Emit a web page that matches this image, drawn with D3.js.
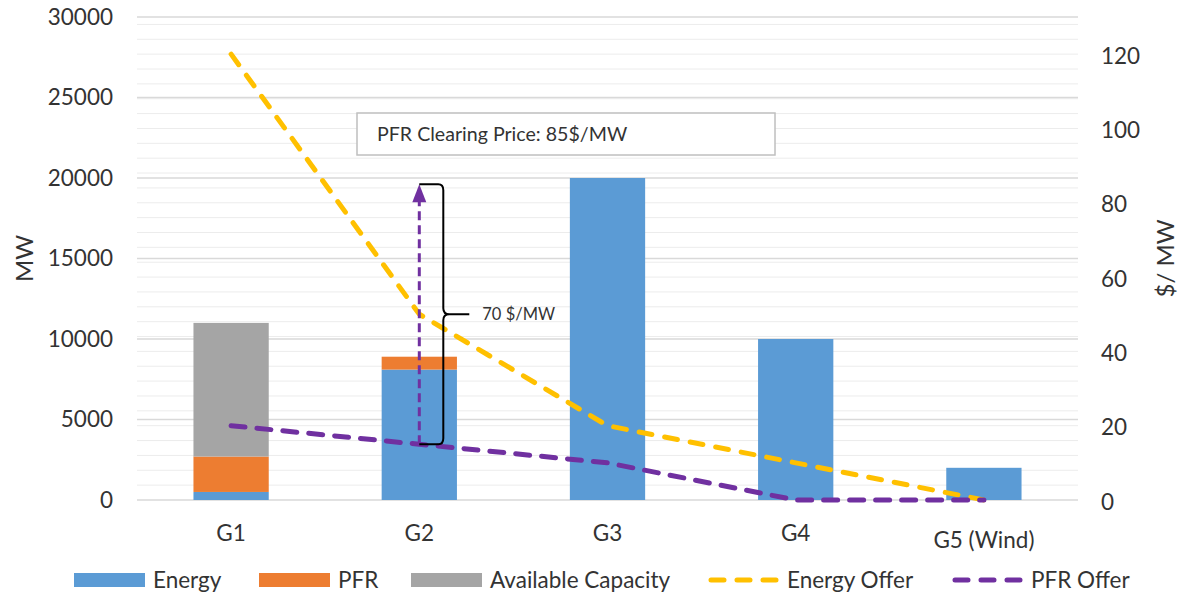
<!DOCTYPE html>
<html>
<head>
<meta charset="utf-8">
<script src="https://cdn.jsdelivr.net/npm/d3@7"></script>
<style>
  html, body { margin: 0; padding: 0; background: #fff; }
  svg text { font-family: Lato, "Open Sans", sans-serif; fill: #333; }
</style>
</head>
<body>
<svg id="chart" width="1180" height="595"></svg>
<script>
// ---------- data ----------
const categories = ["G1", "G2", "G3", "G4", "G5 (Wind)"];
const energy = [500, 8100, 20000, 10000, 2000];
const pfr = [2200, 800, 0, 0, 0];
const availableCapacity = [8300, 0, 0, 0, 0];
const energyOffer = [120, 50, 20, 10, 0];
const pfrOffer = [20, 15, 10, 0, 0];
const leftTicks = [0, 5000, 10000, 15000, 20000, 25000, 30000];
const rightTicks = [0, 20, 40, 60, 80, 100, 120];
const clearingPrice = 85;
const clearingLabel = "PFR Clearing Price: 85$/MW";
const gapLabel = "70 $/MW";
const legendLabels = ["Energy", "PFR", "Available Capacity", "Energy Offer", "PFR Offer"];

// ---------- layout ----------
const colors = {
  energy: "#5B9BD5", pfr: "#ED7D31", avail: "#A5A5A5",
  energyOffer: "#FFC000", pfrOffer: "#7030A0"
};
const plot = { left: 137, right: 1078, top: 17, bottom: 500 };
const FS = 22.5;
const svg = d3.select("#chart");

const x = d3.scaleBand().domain(categories)
  .range([plot.left, plot.right]).paddingInner(0.6).paddingOuter(0.3);
const y = d3.scaleLinear().domain([0, 30000]).range([plot.bottom, plot.top]);
const yR = d3.scaleLinear().domain([0, 130]).range([plot.bottom, plot.top]);

// minor gridlines (secondary axis, every 4)
const minor = d3.range(4, 130, 4);
svg.append("g").selectAll("line").data(minor).join("line")
  .attr("x1", plot.left).attr("x2", plot.right)
  .attr("y1", d => yR(d)).attr("y2", d => yR(d))
  .attr("stroke", "#ececec").attr("stroke-width", 1);

// major gridlines (primary axis)
svg.append("g").selectAll("line").data(leftTicks).join("line")
  .attr("x1", plot.left).attr("x2", plot.right)
  .attr("y1", d => y(d)).attr("y2", d => y(d))
  .attr("stroke", "#d9d9d9").attr("stroke-width", 1.5);

// stacked bars
const rows = categories.map((c, i) => ({
  cat: c, Energy: energy[i], PFR: pfr[i], Avail: availableCapacity[i]
}));
const stack = d3.stack().keys(["Energy", "PFR", "Avail"])(rows);
const stackColors = [colors.energy, colors.pfr, colors.avail];
svg.append("g").selectAll("g").data(stack).join("g")
  .attr("fill", (d, i) => stackColors[i])
  .selectAll("rect").data(d => d).join("rect")
  .attr("x", d => x(d.data.cat))
  .attr("width", x.bandwidth())
  .attr("y", d => y(d[1]))
  .attr("height", d => Math.max(0, y(d[0]) - y(d[1])));

// lines
const cx = c => x(c) + x.bandwidth() / 2;
const line = d3.line().x(d => cx(d.c)).y(d => yR(d.v));
svg.append("path")
  .datum(categories.map((c, i) => ({ c, v: energyOffer[i] })))
  .attr("d", line).attr("fill", "none")
  .attr("stroke", colors.energyOffer).attr("stroke-width", 5)
  .attr("stroke-dasharray", "13,13").attr("stroke-linecap", "round");
svg.append("path")
  .datum(categories.map((c, i) => ({ c, v: pfrOffer[i] })))
  .attr("d", line).attr("fill", "none")
  .attr("stroke", colors.pfrOffer).attr("stroke-width", 5)
  .attr("stroke-dasharray", "14,12").attr("stroke-linecap", "round");

// arrow from G2 PFR offer to clearing price
const ax = cx("G2");
const yFrom = yR(pfrOffer[1]), yTo = yR(clearingPrice);
svg.append("line")
  .attr("x1", ax).attr("x2", ax).attr("y1", yFrom).attr("y2", yTo + 14)
  .attr("stroke", colors.pfrOffer).attr("stroke-width", 3)
  .attr("stroke-dasharray", "9,5");
svg.append("path")
  .attr("d", `M${ax},${yTo} L${ax - 7},${yTo + 18} L${ax + 7},${yTo + 18} Z`)
  .attr("fill", colors.pfrOffer);

// brace
const xs = ax + 24, xTip = ax + 50;
const yMid = (yFrom + yTo) / 2;
svg.append("path")
  .attr("d", `M${ax},${yTo} L${xs - 5},${yTo} Q${xs},${yTo} ${xs},${yTo + 6}
    L${xs},${yMid - 6} Q${xs},${yMid} ${xs + 6},${yMid} L${xTip},${yMid}
    M${xs + 6},${yMid} Q${xs},${yMid} ${xs},${yMid + 6}
    L${xs},${yFrom - 6} Q${xs},${yFrom} ${xs - 5},${yFrom} L${ax},${yFrom}`)
  .attr("fill", "none").attr("stroke", "#000").attr("stroke-width", 2);
svg.append("text").attr("x", xTip + 13).attr("y", yMid + 6)
  .attr("font-size", 16.5).text(gapLabel);

// clearing price box
const box = svg.append("g");
box.append("rect").attr("x", 357).attr("y", 113).attr("width", 418).attr("height", 42)
  .attr("fill", "#fff").attr("stroke", "#bfbfbf").attr("stroke-width", 1.5);
box.append("text").attr("x", 377).attr("y", 141).attr("font-size", 19.6).text(clearingLabel);

// left axis
const gl = svg.append("g").attr("transform", `translate(${plot.left},0)`)
  .call(d3.axisLeft(y).tickValues(leftTicks).tickFormat(d3.format("d")).tickSize(0).tickPadding(24));
gl.select(".domain").remove();
gl.selectAll("text").attr("font-size", FS).style("font-family", "Lato").attr("fill", "#333");

// right axis
const gr = svg.append("g").attr("transform", `translate(${plot.right},2)`)
  .call(d3.axisRight(yR).tickValues(rightTicks).tickFormat(d3.format("d")).tickSize(0).tickPadding(23));
gr.select(".domain").remove();
gr.selectAll("text").attr("font-size", FS).style("font-family", "Lato").attr("fill", "#333");

// category labels
svg.append("g").selectAll("text").data(categories).join("text")
  .attr("x", d => cx(d))
  .attr("y", d => d.length > 2 ? 548 : 541)
  .attr("text-anchor", "middle").attr("font-size", FS).text(d => d);

// axis titles
svg.append("text").attr("transform", `translate(33,${(plot.top + plot.bottom) / 2}) rotate(-90)`)
  .attr("text-anchor", "middle").attr("font-size", 24).text("MW");
svg.append("text").attr("transform", `translate(1174,${(plot.top + plot.bottom) / 2}) rotate(-90)`)
  .attr("text-anchor", "middle").attr("font-size", 24).text("$/ MW");

// legend
const legendX = [74, 259, 411, 708, 952];
const legendKinds = ["rect", "rect", "rect", "line", "line"];
const legendColors = [colors.energy, colors.pfr, colors.avail, colors.energyOffer, colors.pfrOffer];
const lg = svg.append("g");
legendLabels.forEach((lab, i) => {
  const g = lg.append("g").attr("transform", `translate(${legendX[i]},580)`);
  if (legendKinds[i] === "rect") {
    g.append("rect").attr("x", 0).attr("y", -7).attr("width", 71).attr("height", 14)
      .attr("fill", legendColors[i]);
  } else {
    g.append("line").attr("x1", 3).attr("x2", 68).attr("y1", 0).attr("y2", 0)
      .attr("stroke", legendColors[i]).attr("stroke-width", 5)
      .attr("stroke-dasharray", "13,13").attr("stroke-linecap", "round");
  }
  g.append("text").attr("x", 79).attr("y", 8).attr("font-size", FS).text(lab);
});
</script>
</body>
</html>
